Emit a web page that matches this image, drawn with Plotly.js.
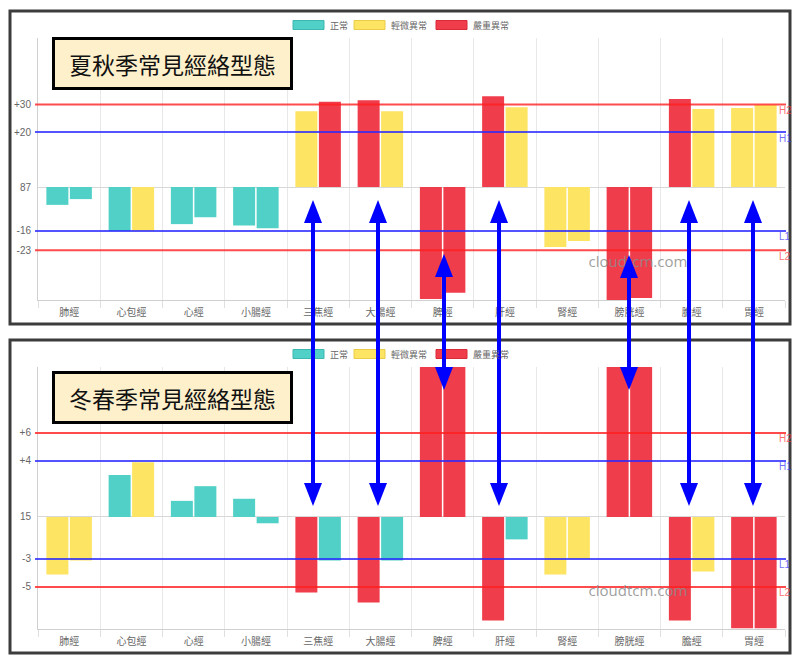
<!DOCTYPE html>
<html><head><meta charset="utf-8">
<script src="https://cdn.plot.ly/plotly-3.0.1.min.js"></script>
<style>html,body{margin:0;padding:0;background:#fff}#chart{width:800px;height:665px}</style>
</head><body><div id="chart"></div>
<script>
// ---------- data ----------
const categories = ['肺經','心包經','心經','小腸經','三焦經','大腸經','脾經','肝經','腎經','膀胱經','膽經','胃經'];
// 夏秋季 (top) offsets from baseline 87
const summerLeft  = [-6.5, -16, -13.5, -14, 27.6, 31.6, -40.7, 33, -21.8, -42, 32, 28.7];
const summerRight = [-4.4, -16, -11, -15, 31, 27.6, -38.5, 29, -19.6, -40.4, 28.4, 29.8];
const summerLeftStatus  = [0,0,0,0,1,2,2,2,1,2,2,1];
const summerRightStatus = [0,1,0,0,2,1,2,1,1,2,1,1];
// 冬春季 (bottom) offsets from baseline 15
const winterLeft  = [-4.1, 3.0, 1.15, 1.3, -5.4, -6.1, 12, -7.4, -4.1, 12, -7.4, -7.95];
const winterRight = [-3.1, 3.9, 2.2, -0.45, -3.1, -3.1, 12, -1.6, -3.0, 12, -3.9, -7.95];
const winterLeftStatus  = [1,0,0,0,2,2,2,2,1,2,2,2];
const winterRightStatus = [1,1,0,0,0,0,2,0,1,2,1,2];
const statusNames  = ['正常','輕微異常','嚴重異常'];
const statusColors = ['#50d0c7','#fde462','#f03d4b'];
const statusBorders = ['#3cb8b0','#e8cc4a','#d92a38'];
const summerTickVals = [30,20,0,-16,-23];
const summerTickText = ['+30','+20','87','-16','-23'];
const winterTickVals = [6,4,0,-3,-5];
const winterTickText = ['+6','+4','15','-3','-5'];
const lineNames   = ['H2','H1','L1','L2'];
const summerLines = [30,20,-16,-23];
const winterLines = [6,4,-3,-5];
const titles = ['夏秋季常見經絡型態','冬春季常見經絡型態'];
const watermark = 'cloudtcm.com';

// ---------- layout helpers ----------
const W = 800, H = 665;
const px = x => x / W;
const py = y => 1 - y / H;
const OFF = 329; // vertical offset between the two panels (pixels)
const lineColors = ['rgba(255,30,30,0.8)','rgba(40,40,255,0.8)','rgba(40,40,255,0.8)','rgba(255,30,30,0.8)'];
const labelColors = ['rgba(255,60,60,0.75)','rgba(60,60,255,0.75)','rgba(60,60,255,0.75)','rgba(255,60,60,0.75)'];
const CJK = '"Noto Sans CJK TC","Noto Sans CJK SC",sans-serif';

function barTrace(vals, status, xa, ya) {
  return {
    type: 'bar', x: categories, y: vals, xaxis: xa, yaxis: ya,
    marker: { color: status.map(s => statusColors[s]), line: { width: 0 } },
    showlegend: false, hoverinfo: 'skip'
  };
}
const data = [
  barTrace(summerLeft, summerLeftStatus, 'x', 'y'),
  barTrace(summerRight, summerRightStatus, 'x', 'y'),
  barTrace(winterLeft, winterLeftStatus, 'x2', 'y2'),
  barTrace(winterRight, winterRightStatus, 'x2', 'y2')
];

const xDomain = [px(38), px(785)];
function xAxis(anchor) {
  return {
    domain: xDomain, anchor: anchor, type: 'category', tickson: 'boundaries',
    showgrid: true, gridcolor: '#e8e8e8', gridwidth: 1,
    ticks: 'outside', ticklen: 7, tickcolor: '#e0e0e0', ticklabelstandoff: 3,
    showline: true, linecolor: '#d0d0d0', linewidth: 1,
    tickfont: { size: 10, color: '#666', family: CJK }, fixedrange: true
  };
}
function yAxis(anchor, domain, range, tv, tt) {
  return {
    domain: domain, anchor: anchor, range: range, tickvals: tv, ticktext: tt,
    showgrid: false, zeroline: true, zerolinecolor: '#d8d8d8', zerolinewidth: 1,
    showline: true, linecolor: '#d0d0d0', linewidth: 1,
    ticks: 'outside', ticklen: 4, tickcolor: 'rgba(0,0,0,0)',
    tickfont: { size: 10, color: '#666', family: 'Liberation Sans, Arial, sans-serif' }, fixedrange: true
  };
}

const shapes = [];
const annotations = [];

// frames
[0, OFF].forEach(o => {
  shapes.push({ type: 'rect', xref: 'paper', yref: 'paper', layer: 'below',
    x0: px(10), x1: px(790), y0: py(11 + o), y1: py(324 + o),
    line: { color: '#3c3c3c', width: 3 }, fillcolor: 'rgba(0,0,0,0)' });
});

// threshold lines + labels
[[summerLines, 'y'], [winterLines, 'y2']].forEach(([vals, yr]) => {
  vals.forEach((v, i) => {
    shapes.push({ type: 'line', xref: 'paper', yref: yr, x0: px(35), x1: px(786), y0: v, y1: v,
      line: { color: lineColors[i], width: 2 } });
    annotations.push({ xref: 'paper', yref: yr, x: px(777), y: v, yshift: -6, xanchor: 'left',
      text: lineNames[i], showarrow: false,
      font: { size: 10, color: labelColors[i], family: 'Liberation Sans, Arial' } });
  });
});

// legends
const swX = [293, 354, 436];
[0, OFF].forEach(o => {
  statusNames.forEach((n, i) => {
    shapes.push({ type: 'rect', xref: 'paper', yref: 'paper',
      x0: px(swX[i]), x1: px(swX[i] + 31), y0: py(20.5 + o), y1: py(29.5 + o),
      fillcolor: statusColors[i], line: { color: statusBorders[i], width: 1 } });
    annotations.push({ xref: 'paper', yref: 'paper', x: px(swX[i] + 35), y: py(25 + o),
      xanchor: 'left', yanchor: 'middle', text: n, showarrow: false,
      font: { size: 9, color: '#666', family: CJK } });
  });
});

// title boxes
titles.forEach((t, k) => {
  const o = k === 0 ? 0 : 334;
  shapes.push({ type: 'rect', xref: 'paper', yref: 'paper',
    x0: px(53.5), x1: px(291.5), y0: py(38.5 + o), y1: py(88.5 + o),
    fillcolor: '#fdf0cb', line: { color: '#000', width: 3 } });
  annotations.push({ xref: 'paper', yref: 'paper', x: px(172.5), y: py(64 + o),
    text: t, showarrow: false, xanchor: 'center', yanchor: 'middle',
    font: { size: 23, color: '#111', family: CJK } });
});

// watermarks
[0, OFF].forEach(o => {
  shapes.push({ type: 'rect', xref: 'paper', yref: 'paper',
    x0: px(588), x1: px(688), y0: py(252 + o), y1: py(272 + o),
    line: { width: 0 }, fillcolor: 'rgba(0,0,0,0)',
    label: { text: watermark, textposition: 'middle center',
      font: { size: 15, color: 'rgba(140,140,140,0.85)', family: 'Open Sans, sans-serif' } } });
});

// blue double arrows between the panels
const arrows = [
  { x: 313, top: 200, bot: 506 },
  { x: 378, top: 200, bot: 506 },
  { x: 444, top: 254, bot: 390 },
  { x: 499, top: 200, bot: 506 },
  { x: 629, top: 255, bot: 390 },
  { x: 689, top: 200, bot: 506 },
  { x: 753, top: 200, bot: 506 }
];
arrows.forEach(a => {
  shapes.push({ type: 'line', xref: 'paper', yref: 'paper', x0: px(a.x), x1: px(a.x),
    y0: py(a.top + 18), y1: py(a.bot - 18), line: { color: '#0000ff', width: 4 } });
  shapes.push({ type: 'path', xref: 'paper', yref: 'paper', xsizemode: 'pixel', ysizemode: 'pixel',
    xanchor: px(a.x), yanchor: py(a.top), path: 'M-9,-23L9,-23L0,0Z',
    fillcolor: '#0000ff', line: { width: 0 } });
  shapes.push({ type: 'path', xref: 'paper', yref: 'paper', xsizemode: 'pixel', ysizemode: 'pixel',
    xanchor: px(a.x), yanchor: py(a.bot), path: 'M-9,23L9,23L0,0Z',
    fillcolor: '#0000ff', line: { width: 0 } });
});

const layout = {
  width: W, height: H, margin: { l: 0, r: 0, t: 0, b: 0 },
  paper_bgcolor: '#fff', plot_bgcolor: 'rgba(0,0,0,0)',
  barmode: 'group', bargap: 0.245, bargroupgap: 0.064,
  showlegend: false,
  xaxis: xAxis('y'),
  yaxis: yAxis('x', [py(300), py(38)], [-41.1, 54.2], summerTickVals, summerTickText),
  xaxis2: xAxis('y2'),
  yaxis2: yAxis('x2', [py(629), py(367)], [-8.0, 10.71], winterTickVals, winterTickText),
  shapes: shapes, annotations: annotations
};
Plotly.newPlot('chart', data, layout, { displayModeBar: false, staticPlot: true });
</script></body></html>
